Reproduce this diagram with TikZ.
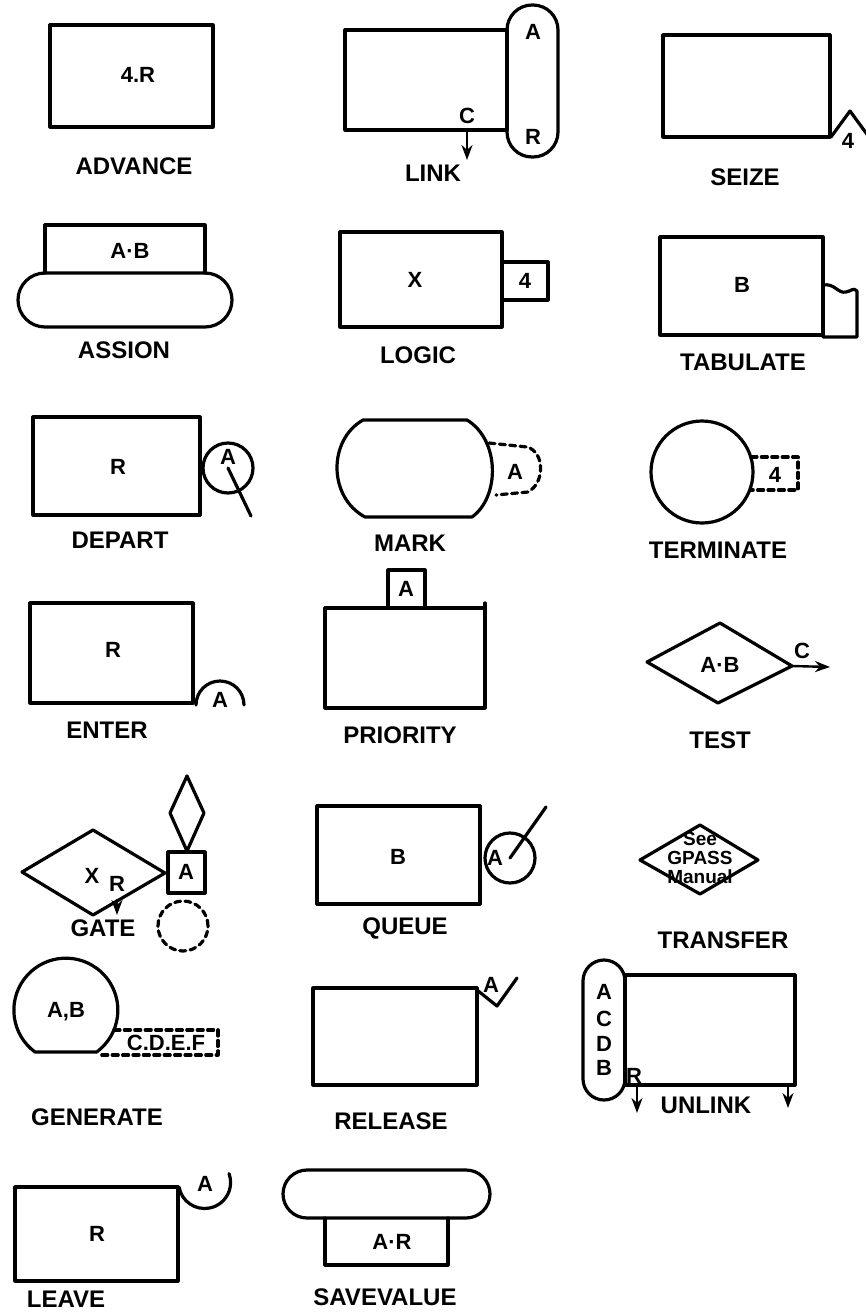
\documentclass[tikz,border=0pt]{standalone}
\usepackage{fontspec}
\setmainfont{Liberation Sans}
\usetikzlibrary{arrows.meta}

\begin{document}
\begin{tikzpicture}[
      x=0.5pt, y=-0.5pt,
      font=\bfseries\fontsize{11}{13}\selectfont,
      >={Stealth[length=7.5pt,width=5.5pt]},
      blk/.style={line width=1.6pt, line join=round, line cap=round},
      dsh/.style={blk, dash pattern=on 3pt off 2.2pt},
      bname/.style={font=\bfseries\fontsize{12}{14}\selectfont},
      small/.style={font=\bfseries\fontsize{9.5}{9.5}\selectfont, align=center, inner sep=0pt},
      flow/.style={->, line width=1.2pt}
  ]
    \useasboundingbox (0,0) rectangle (866,1312);
    % row 1
    \draw[blk] (50,25) rectangle (213,127);
    \node (advance) at (138,75) {4.R};
    \node[bname] (advanceL) at (134,166) {ADVANCE};

    \draw[blk] (345,30) rectangle (507,130);
    \draw[blk, rounded corners=12.5pt] (507,5) rectangle (558,157);
    \node (linkA) at (533,32) {A};
    \node (linkR) at (533,137) {R};
    \node (linkC) at (467,116) {C};
    \coordinate (linkCe) at (467,160);
    \draw[flow] (linkC.south) -- (linkCe);
    \node[bname] (linkL) at (433,173) {LINK};

    \draw[blk] (663,35) rectangle (830,137);
    \draw[blk] (831,137) -- (850,111) -- (869,137);
    \node (seize) at (848,141) {4};
    \node[bname] (seizeL) at (745,177) {SEIZE};

    % row 2
    \draw[blk] (45,273) -- (45,225) -- (205,225) -- (205,273);
    \draw[blk, rounded corners=13.5pt] (18,273) rectangle (232,327);
    \node (assion) at (130,251) {A·B};
    \node[bname] (assionL) at (124,350) {ASSION};

    \draw[blk] (340,232) rectangle (502,327);
    \draw[blk] (502,262) -- (548,262) -- (548,300) -- (502,300);
    \node (logic) at (415,280) {X};
    \node (logicN) at (525,281) {4};
    \node[bname] (logicL) at (418,355) {LOGIC};

    \draw[blk] (660,237) rectangle (823,335);
    \draw[blk] (823,285) .. controls (835,283) and (838,294) .. (846,292)
      .. controls (852,291) and (853,287) .. (857,291) -- (857,337) -- (823,337);
    \node (tabulate) at (742,285) {B};
    \node[bname] (tabulateL) at (743,362) {TABULATE};

    % row 3
    \draw[blk] (33,417) rectangle (200,515);
    \node (depart) at (118,467) {R};
    \draw[blk] (228,468) circle[radius=12.5pt];
    \node (departA) at (228,457) {A};
    \draw[blk] (228,468) -- (251,516);
    \node[bname] (departL) at (120,540) {DEPART};

    \draw[blk] (363,420) -- (467,420) .. controls (500,440) and (500,497) .. (472,517)
      -- (365,517) .. controls (328,497) and (328,440) .. cycle;
    \draw[dsh] (489,443) -- (527,447) .. controls (545,452) and (545,483) .. (528,492) -- (496,495);
    \node (markA) at (515,472) {A};
    \node[bname] (markL) at (410,543) {MARK};

    \draw[blk] (702,472) circle[radius=25.5pt];
    \draw[dsh] (751,457) -- (798,457) -- (798,490) -- (751,490);
    \node (terminate) at (775,475) {4};
    \node[bname] (terminateL) at (718,550) {TERMINATE};

    % row 4
    \draw[blk] (30,603) rectangle (193,703);
    \draw[blk] (196,705) arc[start angle=180, end angle=0, radius=12pt];
    \node (enter) at (113,650) {R};
    \node (enterA) at (220,700) {A};
    \node[bname] (enterL) at (107,730) {ENTER};

    \draw[blk] (485,603) -- (485,708) -- (325,708) -- (325,608) -- (485,608);
    \draw[blk] (388,608) -- (388,570) -- (425,570) -- (425,608);
    \node (priority) at (406,589) {A};
    \node[bname] (priorityL) at (400,735) {PRIORITY};

    \draw[blk] (647,662) -- (720,623) -- (792,666) -- (718,703) -- cycle;
    \node (test) at (720,665) {A·B};
    \coordinate (testR) at (792,666);
    \coordinate (testE) at (830,667);
    \draw[flow] (testR) -- (testE);
    \node (testC) at (802,651) {C};
    \node[bname] (testL) at (720,740) {TEST};

    % row 5
    \draw[blk] (22,872) -- (93,830) -- (165,873) -- (93,915) -- cycle;
    \node (gate) at (92,876) {X};
    \node (gateR) at (117,884) {R};
    \coordinate (gateRe) at (117,915);
    \draw[flow] (gateR.south) -- (gateRe);
    \draw[blk] (168,852) rectangle (205,893);
    \node (gateA) at (186,872) {A};
    \draw[blk] (187,776) -- (204,813) -- (187,851) -- (170,813) -- cycle;
    \draw[dsh] (183,926) circle[radius=12.5pt];
    \node[bname] (gateL) at (103,928) {GATE};

    \draw[blk] (317,806) rectangle (480,904);
    \node (queue) at (398,857) {B};
    \draw[blk] (510,858) circle[radius=12.5pt];
    \node (queueA) at (495,858) {A};
    \draw[blk] (510,858) -- (546,807);
    \node[bname] (queueL) at (405,928) {QUEUE};

    \draw[blk] (640,860) -- (700,825) -- (758,860) -- (700,894) -- cycle;
    \node[small] (transfer) at (700,858) {See\\GPASS\\Manual};
    \node[bname] (transferL) at (723,940) {TRANSFER};

    % row 6
    \draw[blk] (35,1052) arc[start angle=233.6, end angle=-53.6, radius=26pt] -- cycle;
    \draw[dsh] (114,1030) -- (218,1030) -- (218,1055) -- (98,1055);
    \node (generate) at (66,1012) {A,B};
    \node (generateN) at (166,1043) {C.D.E.F};
    \node[bname] (generateL) at (97,1117) {GENERATE};

    \draw[blk] (313,988) rectangle (477,1085);
    \draw[blk] (477,990) -- (497,1006) -- (517,978);
    \node (releaseA) at (491,985) {A};
    \node[bname] (releaseL) at (391,1121) {RELEASE};

    \draw[blk, rounded corners=10.5pt] (583,960) rectangle (625,1100);
    \draw[blk] (625,975) rectangle (795,1085);
    \node (unlinkA) at (604,992) {A};
    \node (unlinkC) at (604,1019) {C};
    \node (unlinkD) at (604,1044) {D};
    \node (unlinkB) at (604,1068) {B};
    \node (unlinkR) at (634,1076) {R};
    \coordinate (unlinkRa) at (637,1086);
    \coordinate (unlinkRe) at (637,1113);
    \coordinate (unlinkSa) at (788,1086);
    \coordinate (unlinkSe) at (788,1108);
    \draw[flow] (unlinkRa) -- (unlinkRe);
    \draw[flow] (unlinkSa) -- (unlinkSe);
    \node[bname] (unlinkL) at (706,1105) {UNLINK};

    % row 7
    \draw[blk] (15,1187) rectangle (178,1281);
    \draw[blk] (179,1187) arc[start angle=190, end angle=380, radius=13pt];
    \node (leave) at (97,1234) {R};
    \node (leaveA) at (205,1184) {A};
    \node[bname] (leaveL) at (66,1299) {LEAVE};

    \draw[blk, rounded corners=12pt] (283,1170) rectangle (490,1218);
    \draw[blk] (325,1218) -- (325,1265) -- (448,1265) -- (448,1218);
    \node (savevalue) at (392,1242) {A·R};
    \node[bname] (savevalueL) at (385,1297) {SAVEVALUE};
  \end{tikzpicture}
\end{document}
